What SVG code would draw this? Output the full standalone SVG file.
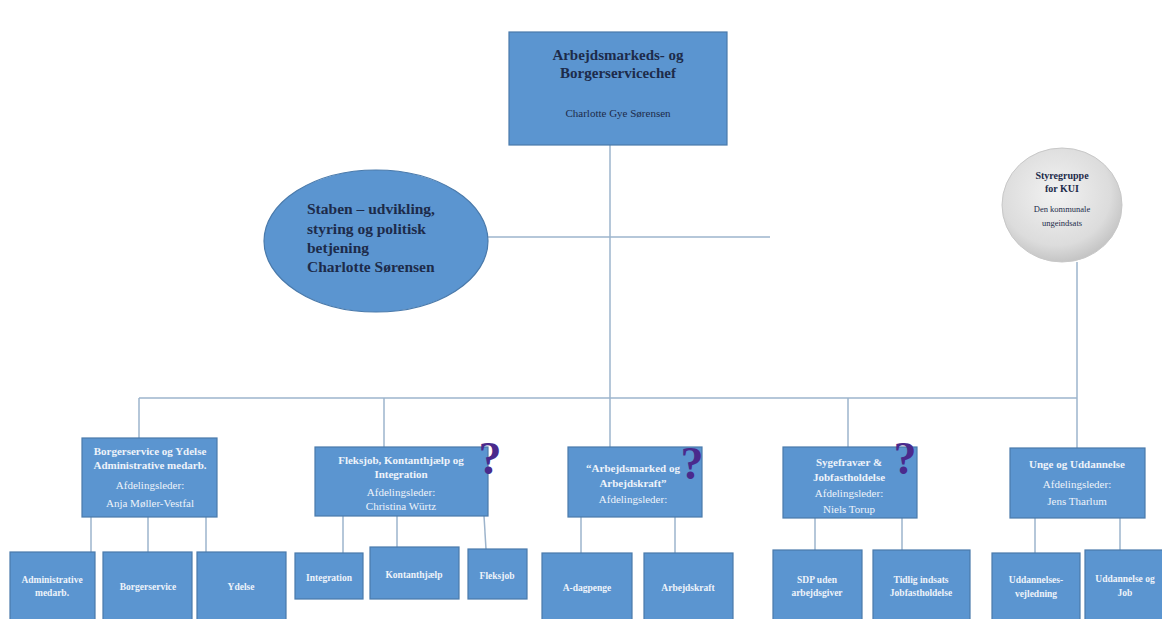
<svg xmlns="http://www.w3.org/2000/svg" width="1162" height="619" viewBox="0 0 1162 619">
<defs>
<radialGradient id="grey" cx="0.45" cy="0.4" r="0.65">
<stop offset="0" stop-color="#f2f2f2"/>
<stop offset="0.7" stop-color="#dcdcdc"/>
<stop offset="1" stop-color="#bdbdbd"/>
</radialGradient>
<style>
.box{fill:#5b95d0;stroke:#4a7aab;stroke-width:1.2}
.ln{stroke:#9db4cc;stroke-width:1.5;fill:none}
.dk{font-family:"Liberation Serif","DejaVu Serif",serif;fill:#1d2b4a;text-anchor:middle}
.wt{font-family:"Liberation Serif","DejaVu Serif",serif;fill:#eef3fa;text-anchor:middle;font-size:11px}
.c{font-size:9.5px;font-weight:bold}
.b{font-weight:bold}
.q{font-family:"Liberation Serif","DejaVu Serif",serif;fill:#4a2a8c;font-weight:bold;font-size:46px;text-anchor:middle}
</style>
</defs>
<rect width="1162" height="619" fill="#ffffff"/>
<g id="connectors">
<line class="ln" x1="610" y1="145" x2="610" y2="398"/>
<line class="ln" x1="488" y1="237" x2="770" y2="237"/>
<line class="ln" x1="139" y1="398" x2="1077" y2="398"/>
<line class="ln" x1="1077" y1="262" x2="1077" y2="448"/>
<line class="ln" x1="139" y1="398" x2="139" y2="438"/>
<line class="ln" x1="384" y1="398" x2="384" y2="447"/>
<line class="ln" x1="610" y1="398" x2="610" y2="447"/>
<line class="ln" x1="848" y1="398" x2="848" y2="447"/>
<line class="ln" x1="91" y1="517" x2="91" y2="552"/>
<line class="ln" x1="148" y1="517" x2="148" y2="552"/>
<line class="ln" x1="206" y1="517" x2="206" y2="552"/>
<line class="ln" x1="343" y1="516" x2="343" y2="553"/>
<line class="ln" x1="397" y1="516" x2="397" y2="547"/>
<line class="ln" x1="484" y1="516" x2="486" y2="549"/>
<line class="ln" x1="581" y1="517" x2="581" y2="553"/>
<line class="ln" x1="675" y1="517" x2="675" y2="553"/>
<line class="ln" x1="815" y1="518" x2="815" y2="550"/>
<line class="ln" x1="902" y1="518" x2="902" y2="550"/>
<line class="ln" x1="1035" y1="518" x2="1035" y2="553"/>
<line class="ln" x1="1120" y1="518" x2="1120" y2="550"/>
</g>
<g id="chef">
<rect class="box" x="509" y="32" width="218" height="113"/>
<text class="dk b" x="618" y="60" font-size="15">Arbejdsmarkeds- og</text>
<text class="dk b" x="618" y="78" font-size="15">Borgerservicechef</text>
<text class="dk" x="618" y="117" font-size="11">Charlotte Gye Sørensen</text>
</g>
<g id="staben">
<ellipse cx="376" cy="241" rx="112" ry="71" fill="#5b95d0" stroke="#4a7aab" stroke-width="1.2"/>
<g font-family="Liberation Serif, DejaVu Serif, serif" font-weight="bold" font-size="15.5" fill="#1d2b4a">
<text x="307" y="214">Staben – udvikling,</text>
<text x="307" y="234">styring og politisk</text>
<text x="307" y="253">betjening</text>
<text x="307" y="272">Charlotte Sørensen</text>
</g>
</g>
<g id="styregruppe">
<ellipse cx="1062" cy="205" rx="60" ry="57" fill="url(#grey)" stroke="#c8c8c8" stroke-width="1"/>
<text class="dk b" x="1062" y="179" font-size="10" fill="#222">Styregruppe</text>
<text class="dk b" x="1062" y="192" font-size="10" fill="#222">for KUI</text>
<text class="dk" x="1062" y="212" font-size="8.5" fill="#222">Den kommunale</text>
<text class="dk" x="1062" y="226" font-size="8.5" fill="#222">ungeindsats</text>
</g>
<g id="borgerservice-ydelse">
<rect class="box" x="82" y="438" width="135" height="79"/>
<text class="wt b" x="150" y="455">Borgerservice og Ydelse</text>
<text class="wt b" x="150" y="469">Administrative medarb.</text>
<text class="wt" x="150" y="489">Afdelingsleder:</text>
<text class="wt" x="150" y="507">Anja Møller-Vestfal</text>
</g>
<g id="fleksjob">
<rect class="box" x="315" y="447" width="173" height="69"/>
<text class="wt b" x="401" y="464" font-size="12.5">Fleksjob, Kontanthjælp og</text>
<text class="wt b" x="401" y="478" font-size="12.5">Integration</text>
<text class="wt" x="401" y="496">Afdelingsleder:</text>
<text class="wt" x="401" y="510">Christina Würtz</text>
<text class="q" x="490" y="474">?</text>
</g>
<g id="arbejdsmarked">
<rect class="box" x="568" y="447" width="134" height="70"/>
<text class="wt b" x="633" y="472" font-size="13">“Arbejdsmarked og</text>
<text class="wt b" x="633" y="487" font-size="13">Arbejdskraft”</text>
<text class="wt" x="633" y="503" font-size="10">Afdelingsleder:</text>
<text class="q" x="692" y="479">?</text>
</g>
<g id="sygefravaer">
<rect class="box" x="783" y="447" width="134" height="71"/>
<text class="wt b" x="849" y="466" font-size="14">Sygefravær &amp;</text>
<text class="wt b" x="849" y="481" font-size="14">Jobfastholdelse</text>
<text class="wt" x="849" y="497">Afdelingsleder:</text>
<text class="wt" x="849" y="513">Niels Torup</text>
<text class="q" x="905" y="474">?</text>
</g>
<g id="unge">
<rect class="box" x="1010" y="448" width="135" height="70"/>
<text class="wt b" x="1077" y="468" font-size="15">Unge og Uddannelse</text>
<text class="wt" x="1077" y="488">Afdelingsleder:</text>
<text class="wt" x="1077" y="505">Jens Tharlum</text>
</g>
<g id="administrative">
<rect class="box" x="10" y="552" width="85" height="70"/>
<text class="wt c" x="52" y="583">Administrative</text>
<text class="wt c" x="52" y="596">medarb.</text>
</g>
<g id="borgerservice">
<rect class="box" x="103" y="552" width="89" height="70"/>
<text class="wt c" x="148" y="590">Borgerservice</text>
</g>
<g id="ydelse">
<rect class="box" x="197" y="552" width="89" height="70"/>
<text class="wt c" x="241" y="590">Ydelse</text>
</g>
<g id="integration">
<rect class="box" x="295" y="553" width="68" height="46"/>
<text class="wt c" x="329" y="581">Integration</text>
</g>
<g id="kontanthjaelp">
<rect class="box" x="370" y="547" width="89" height="52"/>
<text class="wt c" x="414" y="578">Kontanthjælp</text>
</g>
<g id="fleksjob-child">
<rect class="box" x="468" y="549" width="59" height="50"/>
<text class="wt c" x="497" y="579">Fleksjob</text>
</g>
<g id="a-dagpenge">
<rect class="box" x="542" y="553" width="90" height="70"/>
<text class="wt c" x="587" y="591">A-dagpenge</text>
</g>
<g id="arbejdskraft">
<rect class="box" x="644" y="553" width="89" height="70"/>
<text class="wt c" x="688" y="591">Arbejdskraft</text>
</g>
<g id="sdp">
<rect class="box" x="773" y="550" width="89" height="72"/>
<text class="wt c" x="817" y="583">SDP uden</text>
<text class="wt c" x="817" y="596">arbejdsgiver</text>
</g>
<g id="tidlig">
<rect class="box" x="873" y="550" width="97" height="72"/>
<text class="wt c" x="921" y="583">Tidlig indsats</text>
<text class="wt c" x="921" y="596">Jobfastholdelse</text>
</g>
<g id="uddannelsesvejledning">
<rect class="box" x="992" y="553" width="88" height="70"/>
<text class="wt c" x="1036" y="583">Uddannelses-</text>
<text class="wt c" x="1036" y="597">vejledning</text>
</g>
<g id="uddannelse-job">
<rect class="box" x="1085" y="550" width="90" height="72"/>
<text class="wt c" x="1125" y="582">Uddannelse og</text>
<text class="wt c" x="1125" y="596">Job</text>
</g>
</svg>
